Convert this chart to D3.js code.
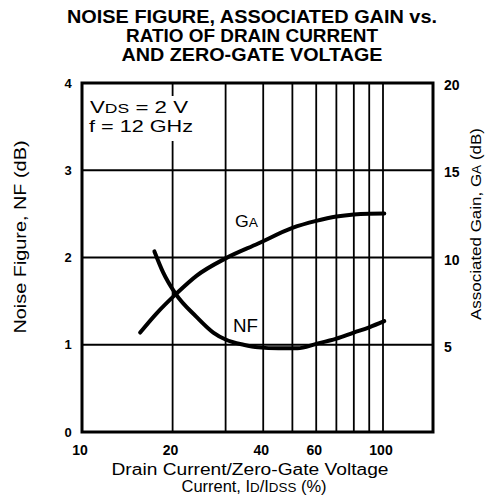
<!DOCTYPE html>
<html>
<head>
<meta charset="utf-8">
<script src="https://cdn.jsdelivr.net/npm/d3@7"></script>
<style>
body { margin: 0; background: #fff; }
text { font-family: "Liberation Sans", Arial, Helvetica, sans-serif; fill: #000; }
</style>
</head>
<body>
<div id="chart"></div>
<script>
var width = 485, height = 502;

var titleLines = ['NOISE FIGURE, ASSOCIATED GAIN vs.', 'RATIO OF DRAIN CURRENT', 'AND ZERO-GATE VOLTAGE'];
var xGrid = [20, 30, 40, 50, 60, 70, 80, 90, 100];
var xTicks = [10, 20, 40, 60, 100];
var nfTicks = [0, 1, 2, 3, 4];
var gaTicks = [5, 10, 15, 20];

// GA curve (right axis, dB)
var gaCurrent = [15.6, 17.7, 20.5, 24, 30, 38.5, 50, 60, 70, 80, 90, 101];
var gaValues = [5.7, 6.8, 7.9, 8.95, 9.95, 10.8, 11.7, 12.1, 12.35, 12.47, 12.51, 12.52];

// NF curve (left axis, dB)
var nfCurrent = [17.4, 18.6, 20.5, 24, 27.3, 30, 34.4, 38.5, 45, 52, 60, 70, 80, 90, 101];
var nfValues = [2.07, 1.83, 1.58, 1.32, 1.14, 1.06, 1.0, 0.97, 0.96, 0.96, 1.01, 1.07, 1.14, 1.2, 1.27];

// plot box (note: "top" is taken by window.top)
var plotL = 82, plotR = 433, plotT = 83, plotB = 432;

var x = d3.scaleLog().domain([10, 146.6]).range([plotL, plotR]);
var yNF = d3.scaleLinear().domain([0, 4]).range([plotB, plotT]);
var yGA = d3.scaleLinear().domain([0, 20]).range([plotB, plotT]);

var svg = d3.select('#chart')
    .append('svg')
    .attr('width', width)
    .attr('height', height);

// fit a text to the width measured on the picture (the original face is wide)
function fitText(sel, len) {
    return sel.attr('textLength', len).attr('lengthAdjust', 'spacingAndGlyphs');
}

// title
var titleY = [23, 41.5, 61];
var titleLen = [370, 252, 261];
titleLines.forEach(function (t, i) {
    fitText(svg.append('text')
        .attr('x', 252)
        .attr('y', titleY[i])
        .attr('text-anchor', 'middle')
        .attr('font-size', 18)
        .attr('font-weight', 'bold')
        .text(t), titleLen[i]);
});

// grid
svg.selectAll('.vgrid')
    .data(xGrid).enter()
    .append('line')
    .attr('x1', function (d) { return x(d); })
    .attr('x2', function (d) { return x(d); })
    .attr('y1', plotT)
    .attr('y2', plotB)
    .style('stroke', '#000')
    .style('stroke-width', 1.8);

svg.selectAll('.hgrid')
    .data([1, 2, 3]).enter()
    .append('line')
    .attr('x1', plotL)
    .attr('x2', plotR)
    .attr('y1', function (d) { return yNF(d); })
    .attr('y2', function (d) { return yNF(d); })
    .style('stroke', '#000')
    .style('stroke-width', 1.8);

// white box behind the conditions text
svg.append('rect')
    .attr('x', 86)
    .attr('y', 96)
    .attr('width', 112)
    .attr('height', 45)
    .style('fill', '#fff');

var cond1 = svg.append('text')
    .attr('x', 90)
    .attr('y', 113)
    .attr('font-size', 16.5);
cond1.append('tspan').text('V');
cond1.append('tspan').attr('font-size', 13).text('DS');
cond1.append('tspan').text(' = 2 V');
fitText(cond1, 98);

fitText(svg.append('text')
    .attr('x', 89)
    .attr('y', 132)
    .attr('font-size', 16.5)
    .text('f = 12 GHz'), 104);

// frame
svg.append('rect')
    .attr('x', plotL)
    .attr('y', plotT)
    .attr('width', plotR - plotL)
    .attr('height', plotB - plotT)
    .style('fill', 'none')
    .style('stroke', '#000')
    .style('stroke-width', 3);

// curves
var gaLine = d3.line()
    .x(function (d, i) { return x(gaCurrent[i]); })
    .y(function (d) { return yGA(d); })
    .curve(d3.curveMonotoneX);

var nfLine = d3.line()
    .x(function (d, i) { return x(nfCurrent[i]); })
    .y(function (d) { return yNF(d); })
    .curve(d3.curveMonotoneX);

svg.append('path')
    .attr('d', gaLine(gaValues))
    .style('fill', 'none')
    .style('stroke', '#000')
    .style('stroke-width', 4)
    .style('stroke-linecap', 'round');

svg.append('path')
    .attr('d', nfLine(nfValues))
    .style('fill', 'none')
    .style('stroke', '#000')
    .style('stroke-width', 4)
    .style('stroke-linecap', 'round');

// curve labels
var gaLabel = svg.append('text')
    .attr('x', 235)
    .attr('y', 227)
    .attr('font-size', 16);
gaLabel.append('tspan').text('G');
gaLabel.append('tspan').attr('font-size', 12.5).text('A');
fitText(gaLabel, 23);

fitText(svg.append('text')
    .attr('x', 233)
    .attr('y', 332)
    .attr('font-size', 17.5)
    .text('NF'), 25);

// tick labels
svg.selectAll('.nfTick')
    .data(nfTicks).enter()
    .append('text')
    .attr('x', 68)
    .attr('y', function (d) { return yNF(d) + 4.5; })
    .attr('text-anchor', 'middle')
    .attr('font-size', 13)
    .attr('font-weight', 'bold')
    .text(function (d) { return d; });

svg.selectAll('.gaTick')
    .data(gaTicks).enter()
    .append('text')
    .attr('x', 444)
    .attr('y', function (d) { return yGA(d) + 7; })
    .attr('font-size', 14)
    .attr('font-weight', 'bold')
    .text(function (d) { return d; });

svg.selectAll('.xTick')
    .data(xTicks).enter()
    .append('text')
    .attr('x', function (d) { return x(d) - 2; })
    .attr('y', 455)
    .attr('text-anchor', 'middle')
    .attr('font-size', 14)
    .attr('font-weight', 'bold')
    .text(function (d) { return d; });

// axis titles
fitText(svg.append('text')
    .attr('x', 250)
    .attr('y', 475)
    .attr('text-anchor', 'middle')
    .attr('font-size', 16)
    .text('Drain Current/Zero-Gate Voltage'), 277);

var xt2 = svg.append('text')
    .attr('x', 254)
    .attr('y', 492)
    .attr('text-anchor', 'middle')
    .attr('font-size', 16);
xt2.append('tspan').text('Current, I');
xt2.append('tspan').attr('font-size', 13).text('D');
xt2.append('tspan').text('/I');
xt2.append('tspan').attr('font-size', 13).text('DSS');
xt2.append('tspan').text(' (%)');
fitText(xt2, 145);

fitText(svg.append('text')
    .attr('transform', 'translate(26,237) rotate(-90)')
    .attr('text-anchor', 'middle')
    .attr('font-size', 16)
    .text('Noise Figure, NF (dB)'), 193);

var yt2 = svg.append('text')
    .attr('transform', 'translate(481,224) rotate(-90)')
    .attr('text-anchor', 'middle')
    .attr('font-size', 15.5);
yt2.append('tspan').text('Associated Gain, G');
yt2.append('tspan').attr('font-size', 12.5).text('A');
yt2.append('tspan').text(' (dB)');
fitText(yt2, 192);
</script>
</body>
</html>
